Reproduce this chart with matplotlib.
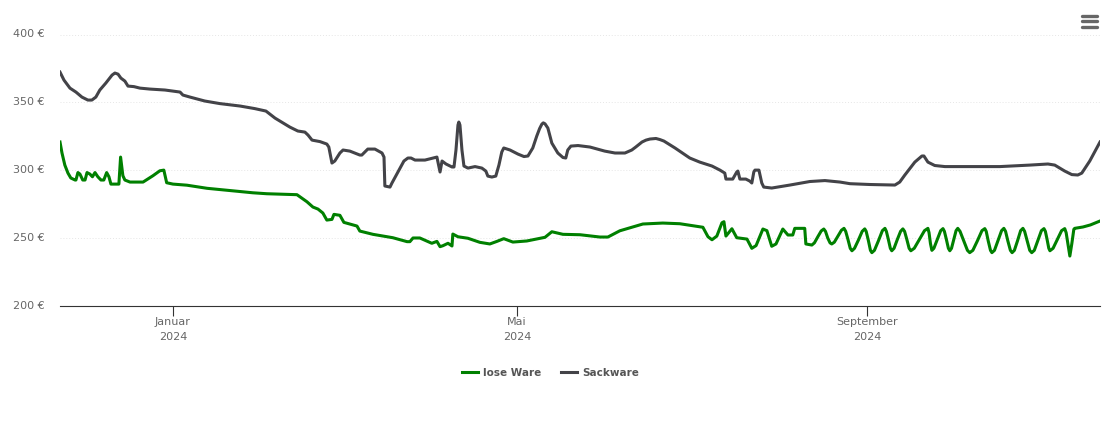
import matplotlib
matplotlib.use('Agg')
import matplotlib.pyplot as plt
from matplotlib.lines import Line2D
from matplotlib.transforms import ScaledTranslation

# days since 1 Jan 2024, prices in euro
sack_days = [-39.7, -38.3, -36.2, -34.1, -32, -29.9, -28.5, -27.1, -25.7, -23.6, -21.4, -20.4, -19.3, -18.3, -16.9, -15.8,
             -13.7, -11.6, -8.1, -2.8, 2.5, 3.5, 6, 11.2, 16.5, 23.6, 28.8, 32.7, 35.9, 41.1, 43.9, 46.4, 47.5, 48.9,
             51.7, 54.1, 54.8, 55.9, 56.9, 58.7, 59.8, 62.2, 65.7, 66.4, 68.5, 71, 73.5, 74.2, 74.5, 76.3, 77, 79.1,
             81.2, 82.6, 83.7, 85.1, 88.6, 92.8, 93.9, 94.6, 96, 98.1, 98.8, 99.5, 100.2, 100.5, 100.9, 101.6,
             102.3, 103.7, 106.2, 108.6, 110, 110.7, 112.1, 113.5, 114.6, 115.6, 116.3, 118.5, 121.3, 123.4, 124.8,
             126.5, 127.9, 128.9, 129.7, 130.2, 130.8, 131.8, 133.2, 135.3, 137.1, 138.1, 138.8, 139.9, 142.4, 146.6, 151.8, 155.4,
             158.9, 161.3, 162.7, 164.9, 166.3, 167.7, 168.7, 169.8, 171.2, 172.6, 174.3, 176.5, 181.7, 185.2, 189.5, 192.3, 194, 194.4, 196.8, 198.2,
             198.6, 199.3, 201.4, 202.8, 203.5, 204.2, 204.6, 206, 207, 207.7, 210.5, 216.9, 223.9, 229.2, 234.5, 238,
             245, 253.8, 255.5, 257.3, 260.8, 263.3, 264, 265.4, 267.8, 271.4, 290.7, 301.2, 307.6, 310, 313.5, 316,
             318.1, 319.5, 320.9, 322.3, 325.9]
sack_price = [372.3, 366.4, 360.5, 357.6, 353.9, 351.7, 351.7, 353.9, 359.1, 364.2, 370.1, 371.6, 370.8, 367.9, 365.7, 362,
              361.6, 360.5, 359.8, 359.1, 357.6, 355.4, 353.9, 351, 349.1, 347.3, 345.4, 343.6, 338.4, 331.8, 328.9,
              328.1, 325.9, 322.2, 321.1, 319.3, 317.1, 305.3, 306.8, 312.7, 314.9, 314.1, 311.2, 311.2, 315.6, 315.6,
              312.7, 309.7, 288.4, 287.6, 290.6, 298.7, 306.8, 309, 309, 307.5, 307.5, 309.7, 298.7, 306.8, 304.6,
              302.4, 302.4, 314.9, 333.3, 335.5, 333.3, 314.9, 303.1, 301.6, 302.7, 301.6, 299.4, 295.7, 295, 295.7, 303.8,
              313.4, 316.4, 314.9, 311.9, 310.1, 310.5, 316.4, 325.2, 330.7, 334, 334.9, 334.2, 331.1, 320, 312.7, 309.4, 309, 314.9,
              317.8, 318.2, 317.1, 314.1, 312.7, 312.7, 314.9, 317.1, 320.8, 322.2, 323, 323.2, 323.4, 322.6, 321.5, 319.3, 316.4, 309, 306, 303.1, 300.1,
              297.9, 293.5, 293.5, 298.7, 299.4, 293.5, 293.5, 292, 290.6, 298.7, 300.1, 300.1, 290.6, 287.6, 286.9, 289.1,
              291.7, 292.4, 291.3, 290.1, 289.5, 289.1, 291.3, 296.5, 306, 310.5, 310.5, 306, 303.5, 302.7, 302.7, 303.8,
              304.6, 303.8, 299.4, 296.8, 296.5, 297.9, 302.4, 306.8, 320.8]

lose_days = [-39.7, -39, -38, -36.9, -35.9, -34.4, -34.1, -33.4, -32.7, -31.7, -30.9, -30.2, -29.2, -28.3, -27.4, -26.4,
             -25.3, -24.3, -23.3, -22.5, -21.8, -19, -18.4, -17.6, -16.9, -15.1, -10.5, -7, -4.6, -3.2, -2.2, 0, 4.9,
             12, 28.1, 33, 43.6, 47.1, 49.2, 51, 52.7, 54.1, 55.9, 56.6, 58.7, 60.1, 64.7, 65.7, 70.3, 77.3, 82.3, 83.3,
             84.4, 86.8, 91, 92.8, 93.9, 94.9, 96.7, 98.1, 98.4, 100.2, 103.7, 107.9, 111.4, 113.9, 116.3, 119.5, 124.4,
             130.8, 133.2, 137.1, 143.1, 150.1, 152.9, 157.1, 165.2, 172.2, 178.2, 186.3, 188.1, 189.5, 191.2, 193, 193.7,
             194.4, 196.5, 198.2, 201.8, 203.5, 205, 207.4, 208.8, 210.5, 212, 214.4, 216.2, 217.9, 218.6, 222.1, 222.5,
             224.6, 225.5, 226.7, 227.9, 228.8, 229.4, 230.2, 231, 231.6, 232.5, 233.8, 235, 235.9, 236.5, 237.3, 238.1,
             238.7, 239.6, 241, 242.3, 243.2, 243.7, 244.5, 245.2, 245.7, 246.6, 248, 249.4, 250.3, 250.8, 251.5, 252.2,
             252.7, 253.5, 254.6, 255.8, 256.6, 257.2, 258, 258.8, 259.4, 260.6, 262.4, 264.2, 265.4, 265.8, 266.3, 266.8,
             267.5, 268.7, 269.9, 270.7, 271.2, 271.9, 272.6, 273.1, 273.7, 274.5, 275.3, 275.9, 276.7, 278, 279.3, 280.1,
             281.2, 282.8, 284.4, 285.4, 285.9, 286.6, 287.4, 287.9, 288.8, 290, 291.3, 292.1, 292.7, 293.5, 294.4, 295,
             295.8, 296.9, 298, 298.8, 299.4, 300.3, 301.2, 301.9, 302.8, 304, 305.3, 306.2, 306.7, 307.3, 307.9, 308.3,
             309.4, 310.9, 312.4, 313.5, 314, 315, 315.3, 316, 316.7, 317, 319.9, 322.5, 325.9]
lose_price = [320.8, 312.7, 303.8, 297.9, 294.3, 292.8, 292.8, 298.3, 297.2, 292.8, 292.8, 298.3, 297.2, 295.2, 298.3, 295.2,
              292.8, 292.8, 298.3, 295.2, 289.8, 289.8, 309.7, 296, 292.8, 291.3, 291.3, 296, 299.6, 300.1, 290.8, 289.8,
              289, 286.7, 283.4, 282.7, 282, 276.8, 272.9, 271.4, 268.5, 263.3, 263.8, 267.5, 266.8, 261.6, 258.9, 255.2,
              252.8, 250.3, 247.4, 247.4, 250.1, 250.1, 246.2, 247.6, 243.7, 244.4, 246.2, 244.2, 253, 251, 249.9, 246.9,
              245.7, 247.6, 249.6, 247.1, 247.9, 250.6, 254.7, 252.8, 252.5, 250.8, 250.8, 255.4, 260.4, 261.1, 260.6, 258,
              251, 248.8, 251.5, 261.3, 262.1, 251.5, 256.9, 250.3, 249.3, 242.5, 244.5, 256.7, 255.5, 244, 245.7, 256.7,
              252.3, 252.3, 257.2, 257.2, 245.7,
              244.9, 246.5, 251, 255.3, 256.7, 255, 250, 246.5, 245.7, 247, 251.5, 255.8, 257.2, 255, 249, 242.5,
              240.7, 242.5, 248.7, 255, 256.8, 255, 248, 241, 239.3, 241, 248, 255.5, 257.2, 255, 249, 242.5,
              240.7, 242.5, 248.7, 255, 256.8, 255, 249, 242.5, 240.7, 242.5, 249, 255.5, 257.2, 254, 246, 241,
              242.5, 249, 255.5, 257, 255, 249, 242.5, 240.7, 242.5, 249, 255.5, 257.2, 255, 248, 241, 239.3,
              241, 248, 255.5, 257, 255, 248, 241, 239.3, 241, 248, 255.5, 257.2, 255, 248, 241, 239.3,
              241, 248, 255.5, 257.2, 255, 248, 241, 239.3, 241, 248, 255.5, 257, 255, 249, 242.5, 240.7,
              242.5, 249, 255.5, 257, 254, 241, 236.8, 246, 256.5, 257.2, 258.2, 259.7, 262.6]

tick_days = [0, 121, 244]
tick_labels = ['Januar\n2024', 'Mai\n2024', 'September\n2024']
y_ticks = [200, 250, 300, 350, 400]

fig = plt.figure(figsize=(11.1, 4.23), dpi=100)
ax = fig.add_axes([60 / 1110, 1 - 306 / 423, 1040 / 1110, 271.5 / 423])

ax.plot(lose_days, lose_price, color='#008000', lw=2.2, label='lose Ware', solid_joinstyle='round', zorder=3)
ax.plot(sack_days, sack_price, color='#434348', lw=2.2, label='Sackware', solid_joinstyle='round', zorder=3)

ax.set_xlim(-39.7, 325.9)
ax.set_ylim(200, 400)
ax.set_yticks(y_ticks)
ax.set_yticklabels([f'{v} €' for v in y_ticks], fontsize=8, color='#666666')
ax.set_xticks(tick_days)
ax.set_xticklabels(tick_labels, fontsize=8, color='#666666', linespacing=1.55)
ax.tick_params(axis='y', length=0, pad=11)
ax.tick_params(axis='x', length=7, width=0.8, color='#333333', pad=1)
ax.grid(axis='y', color='#e6e6e6', lw=0.7, ls=(0, (1, 2)))
ax.set_axisbelow(True)
for side in ['top', 'left', 'right']:
    ax.spines[side].set_visible(False)
ax.spines['bottom'].set_color('#333333')
ax.spines['bottom'].set_linewidth(0.8)

# y labels sit a pixel above their grid line
nudge = ScaledTranslation(0, 0.75 / 72, fig.dpi_scale_trans)
for lab in ax.get_yticklabels():
    lab.set_transform(lab.get_transform() + nudge)

fig.legend(loc='center', bbox_to_anchor=(550.5 / 1110, 1 - 373 / 423), ncol=2, frameon=False,
           prop={'size': 7.5, 'weight': 'bold'}, handlelength=1.5, handletextpad=0.5, columnspacing=1.9,
           labelcolor='#555555')

# menu button top right
for py in [16, 21.5, 27]:
    fig.add_artist(Line2D([1082 / 1110, 1097 / 1110], [1 - py / 423, 1 - py / 423], color='#666666', lw=2.4,
                          solid_capstyle='round'))

fig.savefig('out.png', dpi=100)
